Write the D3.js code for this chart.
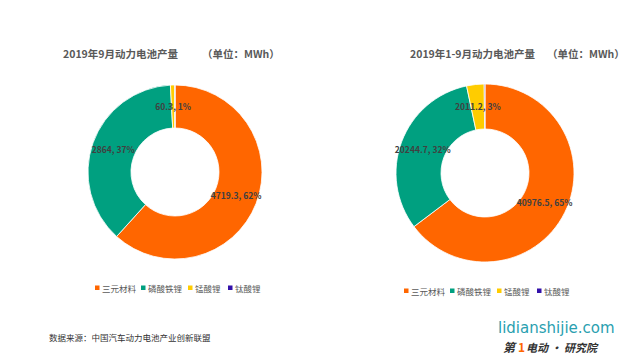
<!DOCTYPE html>
<html><head><meta charset="utf-8">
<script src="https://cdn.jsdelivr.net/npm/d3@7"></script>
<style>body{margin:0;background:#fff;}svg{display:block;font-family:"Noto Sans CJK SC","Noto Sans",sans-serif;}</style>
</head><body>
<svg id="c" width="640" height="360"></svg>
<script>
const categories = ["三元材料", "磷酸铁锂", "锰酸锂", "钛酸锂"];
const colors = ["#FF6600", "#00A080", "#FFCC00", "#3311AA"];
const septValues = [4719.3, 2864, 60.3, 4];
const septLabels = ["4719.3, 62%", "2864, 37%", "60.3, 1%", ""];
const ytdValues = [40976.5, 20244.7, 2011.2, 90];
const ytdLabels = ["40976.5, 65%", "20244.7, 32%", "2011.2, 3%", ""];
const titles = ["2019年9月动力电池产量", "2019年1-9月动力电池产量"];
const unitText = "（单位：MWh）";

const svg = d3.select("#c");
const pie = d3.pie().sort(null).value(d => d);

function donut(values, labels, cx, cy, r0, r1) {
  const g = svg.append("g").attr("transform", `translate(${cx},${cy})`);
  const arc = d3.arc().innerRadius(r0).outerRadius(r1);
  const arcs = pie(values);
  g.selectAll("path").data(arcs).enter().append("path")
    .attr("d", arc).attr("fill", (d, i) => colors[i])
    .attr("stroke", "#fff").attr("stroke-width", 0.8);
  g.selectAll("text").data(arcs).enter().append("text")
    .attr("transform", d => `translate(${arc.centroid(d)})`)
    .attr("text-anchor", "middle").attr("dy", "0.35em")
    .attr("font-size", 8.5).attr("font-weight", "bold").attr("fill", "#404040")
    .text((d, i) => labels[i]);
}

donut(septValues, septLabels, 175, 172, 44, 87);
donut(ytdValues, ytdLabels, 485, 173, 44, 89);

// titles
svg.append("text").attr("x", 63).attr("y", 58).attr("font-size", 10.5).attr("font-weight", "bold").attr("fill", "#595959").text(titles[0]);
svg.append("text").attr("x", 202).attr("y", 58).attr("font-size", 10.5).attr("font-weight", "bold").attr("fill", "#595959").text(unitText);
svg.append("text").attr("x", 410).attr("y", 58).attr("font-size", 10.5).attr("font-weight", "bold").attr("fill", "#595959").text(titles[1]);
svg.append("text").attr("x", 547).attr("y", 58).attr("font-size", 10.5).attr("font-weight", "bold").attr("fill", "#595959").text(unitText);

// legends
function legend(x0, y, positions) {
  const g = svg.append("g");
  categories.forEach((c, i) => {
    g.append("rect").attr("x", x0 + positions[i]).attr("y", y - 3.5).attr("width", 4.5).attr("height", 4.5).attr("fill", colors[i]);
    g.append("text").attr("x", x0 + positions[i] + 7).attr("y", y).attr("dy", "0.35em")
      .attr("font-size", 8.5).attr("fill", "#595959").text(c);
  });
}
legend(95, 289, [0, 46, 93, 133]);
legend(404, 292, [0, 46, 93, 133]);

// source
svg.append("text").attr("x", 49).attr("y", 341).attr("font-size", 8.5).attr("fill", "#333").text("数据来源：中国汽车动力电池产业创新联盟");

// watermark
svg.append("text").attr("x", 498).attr("y", 333).attr("font-size", 15).attr("fill", "#2AA0B0").attr("font-family", "DejaVu Sans, sans-serif").text("lidianshijie.com");
svg.append("text").attr("x", 503).attr("y", 352).attr("font-size", 12).attr("font-weight", "bold").attr("font-style", "italic").attr("fill", "#333").text("第");
svg.append("text").attr("x", 518).attr("y", 352).attr("font-size", 12).attr("font-weight", "bold").attr("fill", "#FF6600").text("1");
svg.append("text").attr("x", 526).attr("y", 352).attr("font-size", 11).attr("font-weight", "bold").attr("font-style", "italic").attr("fill", "#333").text("电动 · 研究院");
</script>
</body></html>
